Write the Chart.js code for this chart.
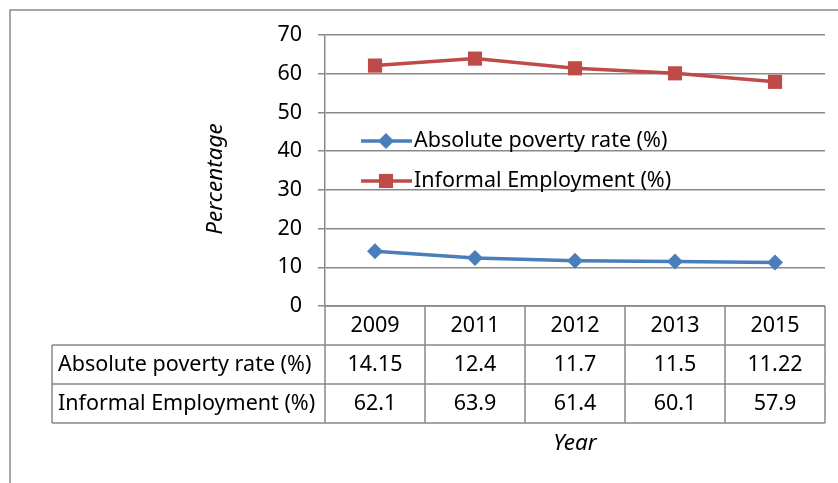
<!DOCTYPE html>
<html>
<head>
<meta charset="utf-8">
<script src="https://cdn.jsdelivr.net/npm/chart.js@4/dist/chart.umd.min.js"></script>
<style>
  html, body { margin: 0; padding: 0; background: #fff; }
  #wrap { width: 838px; height: 483px; }
</style>
</head>
<body>
<div id="wrap"><canvas id="grafico" width="838" height="483"></canvas></div>
<script>
// ---- dados ----
const ANOS     = ['2009', '2011', '2012', '2013', '2015'];
const POBREZA  = [14.15, 12.4, 11.7, 11.5, 11.22];
const INFORMAL = [62.1, 63.9, 61.4, 60.1, 57.9];
const POBREZA_TXT  = ['14.15', '12.4', '11.7', '11.5', '11.22'];
const INFORMAL_TXT = ['62.1', '63.9', '61.4', '60.1', '57.9'];
const SERIES   = ['Absolute poverty rate (%)', 'Informal Employment (%)'];

const AZUL  = '#4a7ebb';
const VERM  = '#be4b48';
const CINZA = '#898989';
const FONTE = '"Noto Sans", sans-serif';
const TAM   = 21.5;

// ---- tabela de dados + legenda + borda ----
const tabelaPlugin = {
  id: 'tabela',
  beforeDraw(chart) {
    const ctx = chart.ctx;
    ctx.save();
    ctx.strokeStyle = CINZA;
    ctx.lineWidth = 1.5;
    ctx.beginPath();
    ctx.moveTo(10, 483); ctx.lineTo(10, 10); ctx.lineTo(838, 10);
    ctx.stroke();
    ctx.restore();
  },
  afterDraw(chart) {
    const ctx = chart.ctx;
    const x = chart.scales.x;
    const area = chart.chartArea;
    const passo = x.getPixelForValue(1) - x.getPixelForValue(0);
    const esq = 52, top = area.bottom, linhaH = 39;
    const dir = x.getPixelForValue(ANOS.length - 1) + passo / 2;

    ctx.save();
    ctx.strokeStyle = CINZA;
    ctx.lineWidth = 1.5;
    ctx.beginPath();
    // horizontais
    ctx.moveTo(area.left, top); ctx.lineTo(dir, top);
    for (let r = 1; r <= 3; r++) {
      ctx.moveTo(esq, top + r * linhaH); ctx.lineTo(dir, top + r * linhaH);
    }
    // verticais
    ctx.moveTo(esq, top + linhaH); ctx.lineTo(esq, top + 3 * linhaH);
    for (let i = 0; i <= ANOS.length; i++) {
      const px = x.getPixelForValue(i) - passo / 2;
      ctx.moveTo(px, top); ctx.lineTo(px, top + 3 * linhaH);
    }
    ctx.stroke();

    ctx.fillStyle = '#000';
    ctx.font = `${TAM}px ${FONTE}`;
    ctx.textBaseline = 'middle';
    ctx.textAlign = 'center';
    ANOS.forEach((a, i) => {
      const cx = x.getPixelForValue(i);
      ctx.fillText(a, cx, top + linhaH * 0.5);
      ctx.fillText(POBREZA_TXT[i], cx, top + linhaH * 1.5);
      ctx.fillText(INFORMAL_TXT[i], cx, top + linhaH * 2.5);
    });
    ctx.textAlign = 'left';
    ctx.fillText(SERIES[0], esq + 6, top + linhaH * 1.5);
    ctx.fillText(SERIES[1], esq + 6, top + linhaH * 2.5);

    // títulos dos eixos
    ctx.font = `italic ${TAM + 1}px ${FONTE}`;
    ctx.textAlign = 'center';
    ctx.fillText('Year', x.getPixelForValue(2), 444);
    ctx.translate(216, 179);
    ctx.rotate(-Math.PI / 2);
    ctx.fillText('Percentage', 0, 0);
    ctx.restore();

    // legenda dentro da área do gráfico
    ctx.save();
    const leg = [
      { y: 141, cor: AZUL, forma: 'rectRot', raio: 8 },
      { y: 181, cor: VERM, forma: 'rect', raio: 10 },
    ];
    leg.forEach((l, i) => {
      ctx.strokeStyle = l.cor;
      ctx.lineWidth = 3.5;
      ctx.beginPath();
      ctx.moveTo(361, l.y); ctx.lineTo(412, l.y);
      ctx.stroke();
      ctx.fillStyle = l.cor;
      Chart.helpers.drawPoint(ctx, { pointStyle: l.forma, radius: l.raio, borderWidth: 0 }, 386, l.y);
      ctx.fillStyle = '#000';
      ctx.font = `${TAM}px ${FONTE}`;
      ctx.textBaseline = 'middle';
      ctx.textAlign = 'left';
      ctx.fillText(SERIES[i], 414, l.y);
    });
    ctx.restore();
  }
};

new Chart(document.getElementById('grafico').getContext('2d'), {
  type: 'line',
  data: {
    labels: ANOS,
    datasets: [
      { label: SERIES[0], data: POBREZA, borderColor: AZUL, backgroundColor: AZUL,
        borderWidth: 3.5, pointStyle: 'rectRot', pointRadius: 8, pointBorderWidth: 0,
        tension: 0 },
      { label: SERIES[1], data: INFORMAL, borderColor: VERM, backgroundColor: VERM,
        borderWidth: 3.5, pointStyle: 'rect', pointRadius: 10, pointBorderWidth: 0,
        tension: 0 },
    ]
  },
  options: {
    responsive: false,
    animation: false,
    layout: { padding: { left: 200, top: 35, right: 13, bottom: 177 } },
    plugins: { legend: { display: false }, tooltip: { enabled: false } },
    scales: {
      x: { display: false, offset: true },
      y: {
        min: 0, max: 70,
        afterFit: s => { s.width = 125; },
        ticks: { stepSize: 10, color: '#000', padding: 16, font: { family: FONTE, size: TAM } },
        grid: { color: CINZA, lineWidth: 1.5, tickLength: 7 },
        border: { color: CINZA, width: 1.5 }
      }
    }
  },
  plugins: [tabelaPlugin]
});
</script>
</body>
</html>
